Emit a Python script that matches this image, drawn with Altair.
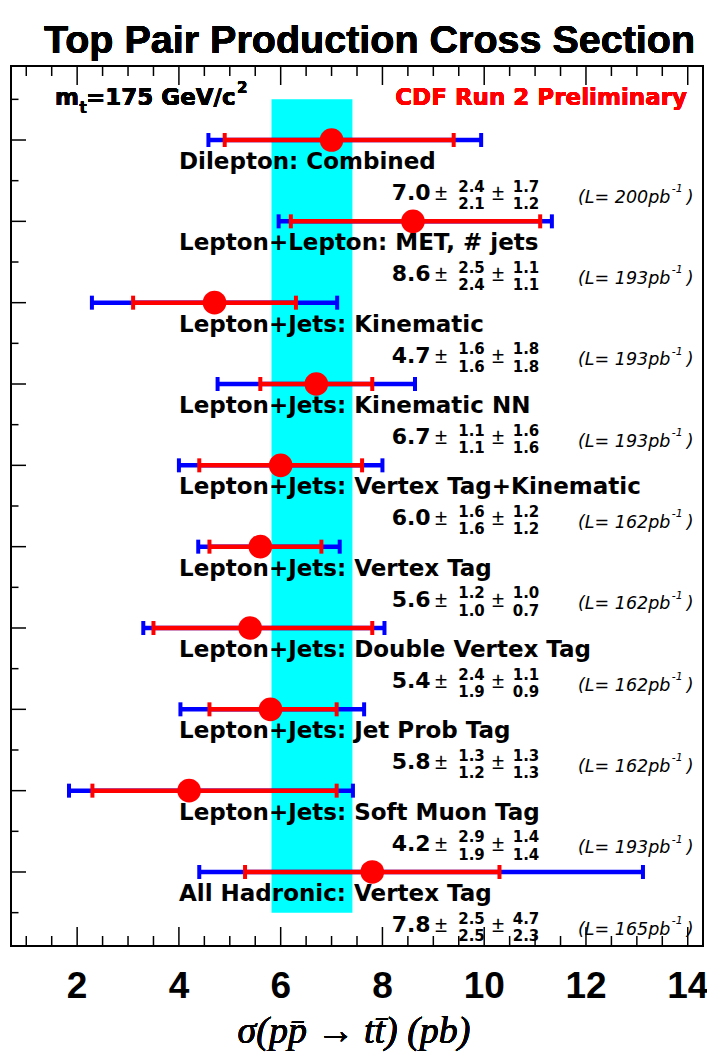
import altair as alt
import pandas as pd

# Measurements of the top-pair production cross section (pb), CDF Run 2
labels = [
    "Dilepton: Combined",
    "Lepton+Lepton: MET, # jets",
    "Lepton+Jets: Kinematic",
    "Lepton+Jets: Kinematic NN",
    "Lepton+Jets: Vertex Tag+Kinematic",
    "Lepton+Jets: Vertex Tag",
    "Lepton+Jets: Double Vertex Tag",
    "Lepton+Jets: Jet Prob Tag",
    "Lepton+Jets: Soft Muon Tag",
    "All Hadronic: Vertex Tag",
]
xsec = [7.0, 8.6, 4.7, 6.7, 6.0, 5.6, 5.4, 5.8, 4.2, 7.8]
stat_up = [2.4, 2.5, 1.6, 1.1, 1.6, 1.2, 2.4, 1.3, 2.9, 2.5]
stat_dn = [2.1, 2.4, 1.6, 1.1, 1.6, 1.0, 1.9, 1.2, 1.9, 2.5]
syst_up = [1.7, 1.1, 1.8, 1.6, 1.2, 1.0, 1.1, 1.3, 1.4, 4.7]
syst_dn = [1.2, 1.1, 1.8, 1.6, 1.2, 0.7, 0.9, 1.3, 1.4, 2.3]
# total uncertainty: statistical and systematic added in quadrature
total_up = [2.94, 2.73, 2.41, 1.94, 2.00, 1.56, 2.64, 1.84, 3.22, 5.32]
total_dn = [2.42, 2.64, 2.41, 1.94, 2.00, 1.22, 2.10, 1.77, 2.36, 3.40]
lumi = [200, 193, 193, 193, 162, 162, 162, 162, 193, 165]

# theory prediction for m_t = 175 GeV/c^2: 6.7 +0.71 -0.88 pb
theory_lo = 5.82
theory_hi = 7.41

x_major = [2, 4, 6, 8, 10, 12, 14]
x_minor = [1.0, 1.5, 2.5, 3.0, 3.5, 4.5, 5.0, 5.5, 6.5, 7.0, 7.5, 8.5, 9.0, 9.5,
           10.5, 11.0, 11.5, 12.5, 13.0, 13.5]

W, H = 692, 880
RED, BLUE, CYAN = "#ff0000", "#0000ff", "#00ffff"
BOLD = "DejaVu Sans"
HELV = "Liberation Sans"

df = pd.DataFrame({
    "label": labels,
    "xsec": xsec,
    "stat_lo": [c - d for c, d in zip(xsec, stat_dn)],
    "stat_hi": [c + u for c, u in zip(xsec, stat_up)],
    "tot_lo": [c - d for c, d in zip(xsec, total_dn)],
    "tot_hi": [c + u for c, u in zip(xsec, total_up)],
    "val": [f"{v:.1f}" for v in xsec],
    "su": [f"{v:.1f}" for v in stat_up],
    "sd": [f"{v:.1f}" for v in stat_dn],
    "yu": [f"{v:.1f}" for v in syst_up],
    "yd": [f"{v:.1f}" for v in syst_dn],
    "lumi": [f"(L= {v}pb" for v in lumi],
})
df["row"] = range(len(df))

xs = alt.Scale(domain=[0.7, 14.3], nice=False, zero=False)
ys = alt.Scale(domain=[-0.91, 9.91], reverse=True, nice=False, zero=False)


def X(field):
    return alt.X(field, type="quantitative", scale=xs, axis=None)


Y = alt.Y("row:Q", scale=ys, axis=None)

base = alt.Chart(df)

band = alt.Chart(pd.DataFrame({"lo": [theory_lo], "hi": [theory_hi],
                               "y0": [-0.5], "y1": [9.5]})).mark_rect(
    color=CYAN, opacity=1).encode(
    x=X("lo"), x2="hi",
    y=alt.Y("y0:Q", scale=ys, axis=None), y2="y1")


def caps(field, color):
    return base.mark_tick(color=color, thickness=4, size=14, orient="vertical",
                          opacity=1).encode(x=X(field), y=Y)


blue_bar = base.mark_rule(color=BLUE, strokeWidth=4.5).encode(
    x=X("tot_lo"), x2="tot_hi", y=Y)
red_bar = base.mark_rule(color=RED, strokeWidth=4.5).encode(
    x=X("stat_lo"), x2="stat_hi", y=Y)
dots = base.mark_circle(color=RED, size=560, opacity=1).encode(x=X("xsec"), y=Y)


def txt(text, x, dy, size, align="left", weight="bold", font=BOLD,
        style="normal", color="black"):
    return base.mark_text(align=align, baseline="alphabetic", dy=dy,
                          fontSize=size, fontWeight=weight, font=font,
                          fontStyle=style, color=color).encode(
        x=alt.value(x), y=Y, text=text)


names = txt("label:N", 168, 29, 23)
vals = txt("val:N", 380.7, 60, 22)
pm1 = txt(alt.value("±"), 424, 60, 22, weight="normal", font=HELV)
pm2 = txt(alt.value("±"), 481, 60, 22, weight="normal", font=HELV)
su = txt("su:N", 460.5, 51.7, 15, align="center")
sd = txt("sd:N", 460.5, 69, 15, align="center")
yu = txt("yu:N", 515, 51.7, 15, align="center")
yd = txt("yd:N", 515, 69, 15, align="center")
lum = txt("lumi:N", 567, 62.7, 17.5, weight="normal", style="italic")
lum_sup = txt(alt.value("-1"), 660.7, 52, 11, weight="normal", style="italic")
lum_par = txt(alt.value(")"), 675.7, 62.7, 17.5, weight="normal", style="italic")

# frame ticks, drawn inward
xmaj = pd.DataFrame({"t": x_major})
xmin = pd.DataFrame({"t": x_minor})
ymaj = pd.DataFrame({"r": list(range(10))})
ymin = pd.DataFrame({"r": [r + 0.5 for r in range(-1, 10)]})


def xticks(d, length):
    bottom = alt.Chart(d).mark_rule(color="black", strokeWidth=1.5).encode(
        x=X("t"), y=alt.value(H), y2=alt.value(H - length))
    top = alt.Chart(d).mark_rule(color="black", strokeWidth=1.5).encode(
        x=X("t"), y=alt.value(0), y2=alt.value(length))
    return bottom + top


def yticks(d, length):
    return alt.Chart(d).mark_rule(color="black", strokeWidth=1.5).encode(
        y=alt.Y("r:Q", scale=ys, axis=None), x=alt.value(0), x2=alt.value(length))


tick_labels = alt.Chart(xmaj).mark_text(
    align="center", baseline="alphabetic", fontSize=37, fontWeight="bold",
    font=HELV).encode(
    x=X("t"), y=alt.value(932), text=alt.Text("t:Q", format="d"))

axis_title = alt.Chart(xmaj).mark_text(
    align="center", baseline="alphabetic", fontSize=38, fontStyle="italic",
    font="Liberation Serif").encode(
    x=alt.value(343), y=alt.value(977),
    text=alt.value("σ(pp\u0304 → tt\u0304) (pb)"))


def note(text, x, y, size, align="left", color="black", weight="bold",
         font=BOLD):
    return alt.Chart(xmaj).mark_text(
        align=align, baseline="alphabetic", fontSize=size, fontWeight=weight,
        font=font, color=color).encode(
        x=alt.value(x), y=alt.value(y), text=alt.value(text))


title = note("Top Pair Production Cross Section", 33, -13, 39.5, font=HELV)
mt_m = note("m", 44, 39, 23)
mt_t = note("t", 68.5, 47, 15)
mt_rest = note("=175 GeV/c", 75, 39, 23)
mt_sq = note("2", 226, 27.3, 15)
cdf = note("CDF Run 2 Preliminary", 676, 39, 23, align="right", color=RED)

chart = alt.layer(
    band,
    blue_bar, caps("tot_lo", BLUE), caps("tot_hi", BLUE),
    red_bar, caps("stat_lo", RED), caps("stat_hi", RED),
    dots,
    names, vals, pm1, pm2, su, sd, yu, yd, lum, lum_sup, lum_par,
    xticks(xmaj, 19), xticks(xmin, 10), yticks(ymaj, 15), yticks(ymin, 7.5),
    tick_labels, axis_title, title, mt_m, mt_t, mt_rest, mt_sq, cdf,
).properties(
    width=W, height=H,
    autosize=alt.AutoSizeParams(type="none"),
    padding={"left": 11, "top": 66, "right": 4, "bottom": 108},
    background="white",
).configure_view(stroke="black", strokeWidth=2)

chart.save("out.html", embed_options={"renderer": "svg", "actions": False})
